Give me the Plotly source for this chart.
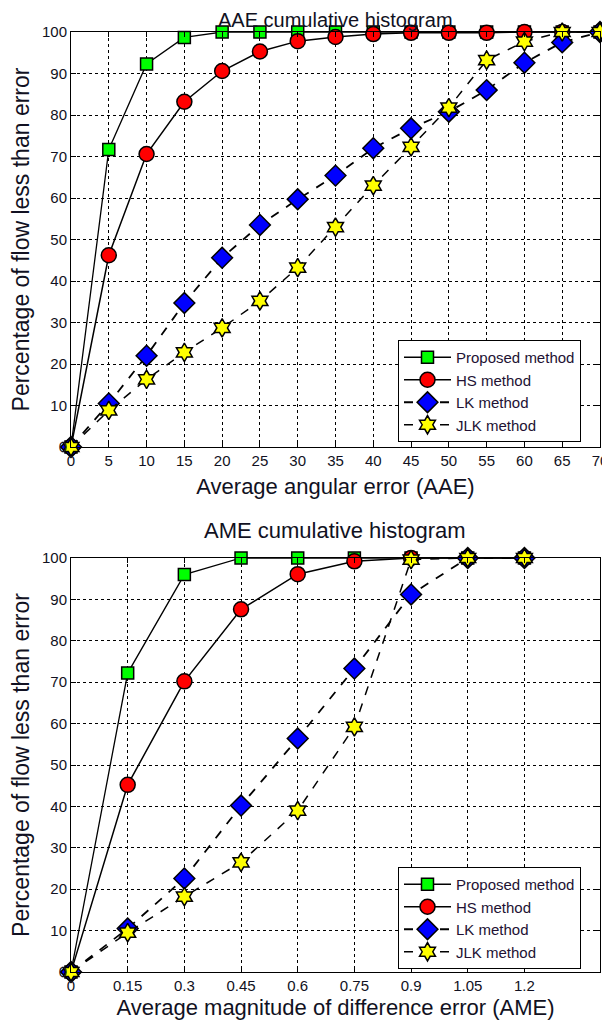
import plotly.graph_objects as go
from plotly.subplots import make_subplots

# ---- data ----
aae_x = [0, 5, 10, 15, 20, 25, 30, 35, 40, 45, 50, 55, 60, 65, 70]
aae_proposed = [0, 71.7, 92.3, 98.7, 100, 100, 100, 100, 100, 100, 100, 100, 100, 100, 100]
aae_hs = [0, 46.2, 70.6, 83.2, 90.6, 95.3, 97.8, 98.8, 99.5, 99.8, 99.8, 99.8, 100, 100, 100]
aae_lk = [0, 10.5, 22.0, 34.7, 45.6, 53.5, 59.7, 65.4, 72.0, 76.8, 80.8, 86.0, 92.6, 97.5, 100]
aae_jlk = [0, 8.8, 16.3, 22.8, 28.7, 35.2, 43.2, 53.0, 63.0, 72.3, 81.8, 93.2, 97.7, 100, 100]

ame_x = [0, 0.15, 0.3, 0.45, 0.6, 0.75, 0.9, 1.05, 1.2]
ame_tick_text = ["0", "0.15", "0.3", "0.45", "0.6", "0.75", "0.9", "1.05", "1.2"]
ame_proposed = [0, 72.2, 96.0, 100, 100, 100, 100, 100, 100]
ame_hs = [0, 45.2, 70.2, 87.6, 96.1, 99.2, 100, 100, 100]
ame_lk = [0, 10.5, 22.6, 40.2, 56.4, 73.3, 91.2, 100, 100]
ame_jlk = [0, 9.5, 18.2, 26.5, 39.0, 59.2, 99.6, 100, 100]

names = ["Proposed method", "HS method", "LK method", "JLK method"]
titles = ["AAE cumulative histogram", "AME cumulative histogram"]
xtitles = ["Average angular error (AAE)", "Average magnitude of difference error (AME)"]
ytitle = "Percentage of flow less than error"

styles = [
    dict(symbol="square", color="#00ff00", size=12, dash="solid", lw=1.3),
    dict(symbol="circle", color="#ff0000", size=15, dash="solid", lw=1.5),
    dict(symbol="diamond", color="#0000ff", size=16, dash="dash", lw=1.8),
    dict(symbol="hexagram", color="#ffff00", size=14, dash="dash", lw=1.5),
]

# page has an 8px body margin; work in screenshot pixels and convert
OFF = 8
W, H = 610 - OFF, 1028 - 2 * OFF
ml, mr, mt = 71 - OFF, 10, 32 - OFF
bottom_axis_px = 972 - OFF           # y of bottom chart's x axis in figure px
mb = H - bottom_axis_px
ph = H - mt - mb
pw = W - ml - mr

def py(pix):
    return (H - mb - (pix - OFF)) / ph

def px(pix):
    return ((pix - OFF) - ml) / pw

fig = make_subplots(rows=2, cols=1, vertical_spacing=0.0)

FONT = "Liberation Sans, Arial, sans-serif"
TXT = "#111122"

for row, (xs, series, leg) in enumerate([
    (aae_x, [aae_proposed, aae_hs, aae_lk, aae_jlk], "legend"),
    (ame_x, [ame_proposed, ame_hs, ame_lk, ame_jlk], "legend2"),
], start=1):
    for name, ys, st in zip(names, series, styles):
        fig.add_trace(go.Scatter(
            x=xs, y=ys, name=name, mode="lines+markers",
            line=dict(color="black", width=st["lw"], dash=st["dash"]),
            marker=dict(symbol=st["symbol"], color=st["color"], size=st["size"],
                        line=dict(color="black", width=1.5)),
            cliponaxis=False, legend=leg,
        ), row=row, col=1)

axis_common = dict(
    showline=True, linecolor="black", linewidth=1, mirror="ticks",
    ticks="inside", ticklen=5, tickcolor="black",
    showgrid=True, gridcolor="black", gridwidth=1, griddash="3px,3px",
    zeroline=False, automargin=False,
    tickfont=dict(family=FONT, size=15, color=TXT),
)

fig.update_xaxes(**axis_common)
fig.update_yaxes(**axis_common)

top_dom = [py(447), 1.0]
bot_dom = [0.0, py(558)]

xt_font = dict(family=FONT, size=22, color=TXT)
yt_font = dict(family=FONT, size=23, color=TXT)

fig.update_layout(
    xaxis=dict(range=[0, 70], dtick=5, tick0=0, domain=[0, 1],
               title=dict(text=xtitles[0], font=xt_font, standoff=10)),
    yaxis=dict(range=[0, 100], dtick=10, domain=top_dom,
               title=dict(text=ytitle, font=yt_font, standoff=7)),
    xaxis2=dict(range=[0, 1.4], tickvals=ame_x, ticktext=ame_tick_text, domain=[0, 1],
                title=dict(text=xtitles[1], font=xt_font, standoff=9)),
    yaxis2=dict(range=[0, 100], dtick=10, domain=bot_dom,
                title=dict(text=ytitle, font=yt_font, standoff=7)),
)

legend_common = dict(
    bgcolor="white", bordercolor="black", borderwidth=1,
    font=dict(family=FONT, size=15, color="#221133"),
    xanchor="left", yanchor="bottom", tracegroupgap=0,
    itemwidth=47,
)

fig.update_layout(
    width=W, height=H,
    margin=dict(l=ml, r=mr, t=mt, b=mb),
    paper_bgcolor="white", plot_bgcolor="white",
    showlegend=True,
    legend=dict(x=px(398), y=py(442), **legend_common),
    legend2=dict(x=px(398), y=py(969), **legend_common),
    annotations=[
        dict(text=titles[0], x=px(335), y=1.0 + mt / ph, xref="paper", yref="paper",
             xanchor="center", yanchor="top", showarrow=False,
             font=dict(family=FONT, size=20, color=TXT), borderpad=0),
        dict(text=titles[1], x=px(335), y=py(530), xref="paper", yref="paper",
             xanchor="center", yanchor="middle", showarrow=False,
             font=dict(family=FONT, size=22, color=TXT)),
    ],
)

fig.write_html("out.html")
